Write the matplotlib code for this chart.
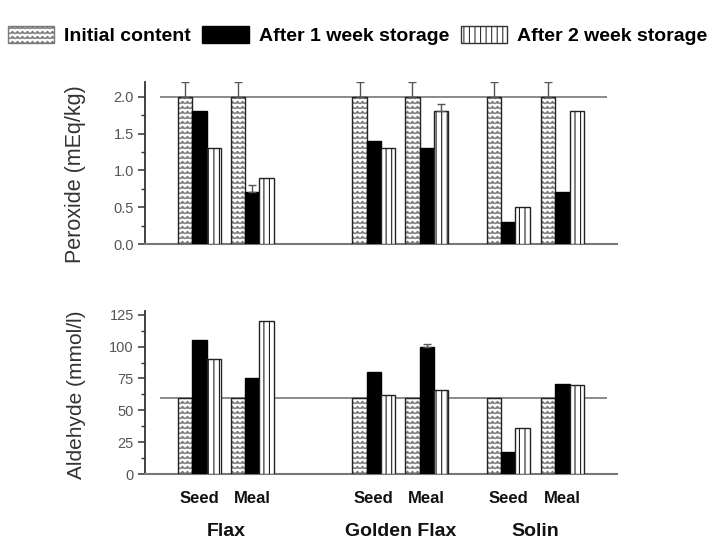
import warnings
import numpy as np
import matplotlib
matplotlib.use("Agg")
import matplotlib.pyplot as plt
from matplotlib import hatch as mhatch
from matplotlib.patches import Patch
from matplotlib.path import Path

warnings.filterwarnings("ignore")

# ---- data ----
species = ["Flax", "Golden Flax", "Solin"]
forms = ["Seed", "Meal", "Seed", "Meal", "Seed", "Meal"]
series = ["Initial content", "After 1 week storage", "After 2 week storage"]

peroxide_initial = [2.0, 2.0, 2.0, 2.0, 2.0, 2.0]
peroxide_week1 = [1.8, 0.7, 1.4, 1.3, 0.3, 0.7]
peroxide_week2 = [1.3, 0.9, 1.3, 1.8, 0.5, 1.8]
peroxide_err_initial = [0.2, 0.2, 0.2, 0.2, 0.2, 0.2]
peroxide_err_week1 = [0.0, 0.1, 0.0, 0.0, 0.0, 0.0]
peroxide_err_week2 = [0.0, 0.0, 0.0, 0.1, 0.0, 0.0]

aldehyde_initial = [60, 60, 60, 60, 60, 60]
aldehyde_week1 = [105, 75, 80, 100, 17, 71]
aldehyde_week2 = [90, 120, 62, 66, 36, 70]
aldehyde_err_initial = [0, 0, 0, 0, 0, 0]
aldehyde_err_week1 = [0, 0, 0, 2, 0, 0]
aldehyde_err_week2 = [0, 0, 0, 0, 0, 0]

peroxide_ref = 2.0
aldehyde_ref = 60

# ---- layout ----
centers = np.array([3.8, 7.5, 16.0, 19.7, 25.4, 29.2])
width = 1.0
XMAX = 33.0


# wavy hatch for the "initial" bars
class WaveHatch(mhatch.HatchPatternBase):
    segs = 40

    def __init__(self, hatch, density):
        self.num_rows = int(hatch.count("~") * density * 1.7)
        self.num_vertices = self.num_rows * (self.segs + 1)

    def set_vertices_and_codes(self, vertices, codes):
        xs = np.linspace(0, 1, self.segs + 1)
        amp = 0.012
        k = 0
        for r in range(self.num_rows):
            y0 = (r + 0.5) / self.num_rows
            for i, x in enumerate(xs):
                vertices[k] = (x, y0 + (amp if i % 2 else -amp))
                codes[k] = Path.MOVETO if i == 0 else Path.LINETO
                k += 1


mhatch._hatch_types.append(WaveHatch)

plt.rcParams["font.family"] = ["Liberation Sans", "DejaVu Sans"]
plt.rcParams["hatch.linewidth"] = 0.8

fig = plt.figure(figsize=(7.15, 5.44), dpi=100)
ax1 = fig.add_axes([145 / 715, 1 - 244 / 544, (617 - 145) / 715, (244 - 82) / 544])
ax2 = fig.add_axes([145 / 715, 1 - 474 / 544, (617 - 145) / 715, (474 - 311) / 544])


def draw_panel(ax, vals, errs, ref, ylim, major, minor):
    ax.hlines(ref, 1.05, 32.3, color="#777777", lw=1.2, zorder=1)
    offsets = [-width, 0, width]
    # initial content: wavy grey hatch with black outline
    ax.bar(centers + offsets[0], vals[0], width, color="white", edgecolor="#7a7a7a",
           hatch="~~", linewidth=0, zorder=2)
    ax.bar(centers + offsets[0], vals[0], width, fill=False, edgecolor="#222222",
           linewidth=1.0, zorder=3)
    # one week: solid black
    ax.bar(centers + offsets[1], vals[1], width, color="black", edgecolor="black",
           linewidth=1.0, zorder=3)
    # two weeks: vertical stripes
    ax.bar(centers + offsets[2], vals[2], width, color="white", edgecolor="#222222",
           hatch="|||", linewidth=1.0, zorder=3)
    for off, v, e in zip(offsets, vals, errs):
        e = np.asarray(e, dtype=float)
        mask = e > 0
        if mask.any():
            ax.errorbar((centers + off)[mask], np.asarray(v, dtype=float)[mask],
                        yerr=[np.zeros(mask.sum()), e[mask]], fmt="none",
                        ecolor="#555555", elinewidth=1.0, capsize=3, capthick=1.0, zorder=4)

    ax.set_xlim(0, XMAX)
    ax.set_ylim(*ylim)
    ax.set_yticks(major)
    ax.set_yticks(minor, minor=True)
    for s in ["top", "right"]:
        ax.spines[s].set_visible(False)
    ax.spines["left"].set_color("#333333")
    ax.spines["left"].set_linewidth(1.3)
    ax.spines["bottom"].set_color("#777777")
    ax.spines["bottom"].set_linewidth(1.5)
    ax.tick_params(axis="y", which="major", length=5, width=1.1, color="#333333",
                   labelsize=10.5, labelcolor="#555555", pad=3)
    ax.tick_params(axis="y", which="minor", length=3, width=1.0, color="#333333")
    ax.set_xticks([])


draw_panel(ax1,
           [peroxide_initial, peroxide_week1, peroxide_week2],
           [peroxide_err_initial, peroxide_err_week1, peroxide_err_week2],
           peroxide_ref, (0, 2.2),
           [0.0, 0.5, 1.0, 1.5, 2.0], np.arange(0.25, 2.2, 0.5))
ax1.set_yticklabels(["0.0", "0.5", "1.0", "1.5", "2.0"])

draw_panel(ax2,
           [aldehyde_initial, aldehyde_week1, aldehyde_week2],
           [aldehyde_err_initial, aldehyde_err_week1, aldehyde_err_week2],
           aldehyde_ref, (0, 128),
           [0, 25, 50, 75, 100, 125], np.arange(12.5, 128, 25))

# sample form and species labels under the lower panel
xt = ax2.get_xaxis_transform()
for c, f in zip(centers, forms):
    ax2.text(c, -0.15, f, transform=xt, ha="center", va="center",
             fontsize=12, fontweight="bold", color="#111111")
for i, sp in enumerate(species):
    mid = (centers[2 * i] + centers[2 * i + 1]) / 2
    ax2.text(mid, -0.35, sp, transform=xt, ha="center", va="center",
             fontsize=14, fontweight="bold", color="#111111")

fig.text(76 / 715, 1 - 174 / 544, "Peroxide (mEq/kg)", rotation=90,
         ha="center", va="center", fontsize=15.5, color="#333333")
fig.text(76 / 715, 1 - 395 / 544, "Aldehyde (mmol/l)", rotation=90,
         ha="center", va="center", fontsize=15, color="#333333")

handles = [
    Patch(facecolor="white", edgecolor="#7a7a7a", hatch="~~", linewidth=1.0),
    Patch(facecolor="black", edgecolor="black"),
    Patch(facecolor="white", edgecolor="#333333", hatch="|||", linewidth=1.0),
]
fig.legend(handles, series, loc="upper center", bbox_to_anchor=(0.5, 0.985),
           ncol=3, frameon=False, handlelength=2.4, handleheight=1.0,
           handletextpad=0.5, columnspacing=0.6,
           prop={"family": ["Liberation Sans"], "weight": "bold", "size": 14})

fig.savefig("out.png", dpi=100)
